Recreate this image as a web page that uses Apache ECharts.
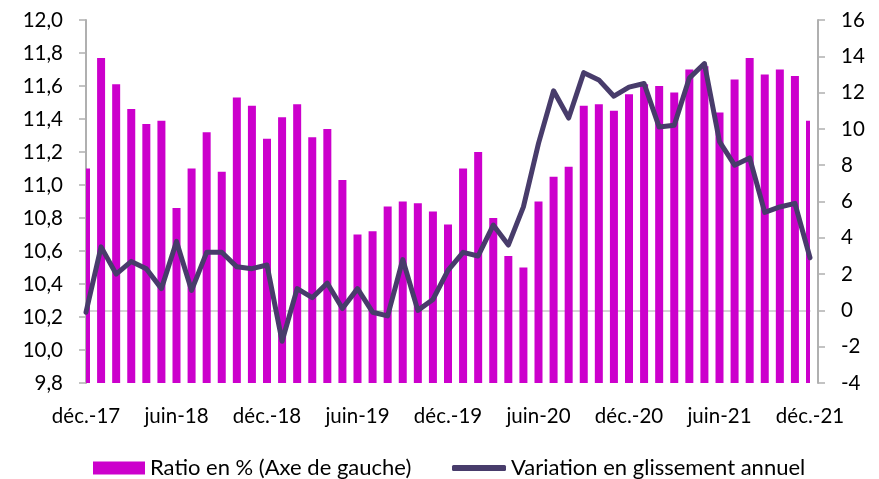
<!DOCTYPE html>
<html lang="fr">
<head>
  <meta charset="UTF-8">
  <title>Ratio et variation</title>
  <style>
    html, body { margin: 0; padding: 0; background: #fff; }
    #main { width: 879px; height: 479px; }
  </style>
  <script src="https://cdn.jsdelivr.net/npm/echarts@6/dist/echarts.min.js"></script>
</head>
<body>
  <div id="main"></div>
  <script>
    // mois, de déc.-17 à déc.-21
    var categories = [
      'déc.-17', 'janv.-18', 'févr.-18', 'mars-18', 'avr.-18', 'mai-18', 'juin-18', 'juil.-18', 'août-18', 'sept.-18', 'oct.-18', 'nov.-18',
      'déc.-18', 'janv.-19', 'févr.-19', 'mars-19', 'avr.-19', 'mai-19', 'juin-19', 'juil.-19', 'août-19', 'sept.-19', 'oct.-19', 'nov.-19',
      'déc.-19', 'janv.-20', 'févr.-20', 'mars-20', 'avr.-20', 'mai-20', 'juin-20', 'juil.-20', 'août-20', 'sept.-20', 'oct.-20', 'nov.-20',
      'déc.-20', 'janv.-21', 'févr.-21', 'mars-21', 'avr.-21', 'mai-21', 'juin-21', 'juil.-21', 'août-21', 'sept.-21', 'oct.-21', 'nov.-21',
      'déc.-21'
    ];
    // Ratio en % (axe de gauche)
    var ratio = [
      11.10, 11.77, 11.61, 11.46, 11.37, 11.39, 10.86, 11.10, 11.32, 11.08, 11.53, 11.48,
      11.28, 11.41, 11.49, 11.29, 11.34, 11.03, 10.70, 10.72, 10.87, 10.90, 10.89, 10.84,
      10.76, 11.10, 11.20, 10.80, 10.57, 10.50, 10.90, 11.05, 11.11, 11.48, 11.49, 11.45,
      11.55, 11.61, 11.60, 11.56, 11.70, 11.72, 11.44, 11.64, 11.77, 11.67, 11.70, 11.66,
      11.39
    ];
    // Variation en glissement annuel (axe de droite)
    var variation = [
      -0.1, 3.5, 2.0, 2.7, 2.3, 1.2, 3.8, 1.1, 3.2, 3.2, 2.4, 2.3,
      2.5, -1.7, 1.2, 0.7, 1.5, 0.1, 1.2, -0.1, -0.3, 2.8, 0.0, 0.6,
      2.2, 3.2, 3.0, 4.7, 3.6, 5.7, 9.2, 12.1, 10.6, 13.1, 12.7, 11.8,
      12.3, 12.5, 10.1, 10.2, 12.8, 13.6, 9.3, 8.0, 8.4, 5.4, 5.7, 5.9,
      2.9
    ];

    var font = 'Lato';
    var barColor = '#cc00cc';
    var lineColor = '#483c6b';
    var leftMin = 9.8;

    var chart = echarts.init(document.getElementById('main'));

    // barres dessinées en série custom pour que la première soit coupée par l'axe
    var barData = ratio.map(function (v, i) { return [i, v]; });

    function renderBar(params, api) {
      var top = api.coord([api.value(0), api.value(1)]);
      var base = api.coord([api.value(0), leftMin]);
      var w = 8;
      return {
        type: 'rect',
        shape: { x: top[0] - w / 2, y: top[1], width: w, height: base[1] - top[1] },
        style: { fill: barColor }
      };
    }

    var option = {
      animation: false,
      textStyle: { fontFamily: font },
      grid: { left: 86, right: 69, top: 20, bottom: 96 },
      legend: [
        {
          left: 88, top: 452,
          itemWidth: 52, itemHeight: 13, itemGap: 5,
          icon: 'rect',
          textStyle: { fontFamily: font, fontSize: 22, color: '#000' },
          data: [{ name: 'Ratio en % (Axe de gauche)', itemStyle: { color: barColor } }]
        },
        {
          left: 447, top: 452,
          itemWidth: 54, itemHeight: 6,
          icon: 'roundRect',
          textStyle: { fontFamily: font, fontSize: 22, color: '#000' },
          data: ['Variation en glissement annuel']
        }
      ],
      xAxis: {
        type: 'category',
        data: categories,
        boundaryGap: false,
        axisLine: { lineStyle: { color: '#c8c8c8', width: 1.5 } },
        axisTick: { show: false },
        axisLabel: {
          interval: 5,
          margin: 23,
          fontFamily: font,
          fontSize: 20.5,
          color: '#000'
        },
        splitLine: { show: false }
      },
      yAxis: [
        {
          type: 'value',
          min: leftMin, max: 12.0, interval: 0.2,
          axisLine: { show: true, lineStyle: { color: '#b0b0b0', width: 2 } },
          axisTick: { show: true, length: 7, lineStyle: { color: '#b0b0b0', width: 1.5 } },
          axisLabel: {
            margin: 23,
            fontFamily: font,
            fontSize: 20.5,
            color: '#000',
            formatter: function (v) { return v.toFixed(1).replace('.', ','); }
          },
          splitLine: { show: false }
        },
        {
          type: 'value',
          position: 'right',
          offset: 8,
          min: -4, max: 16, interval: 2,
          axisLine: { show: true, lineStyle: { color: '#b0b0b0', width: 2 } },
          axisTick: { show: true, length: 7, lineStyle: { color: '#b0b0b0', width: 1.5 } },
          axisLabel: {
            margin: 23,
            fontFamily: font,
            fontSize: 20.5,
            color: '#000'
          },
          splitLine: { show: false }
        }
      ],
      series: [
        {
          name: 'Ratio en % (Axe de gauche)',
          type: 'custom',
          yAxisIndex: 0,
          clip: true,
          renderItem: renderBar,
          itemStyle: { color: barColor },
          encode: { x: 0, y: 1 },
          data: barData,
          z: 1
        },
        {
          name: 'Variation en glissement annuel',
          type: 'line',
          yAxisIndex: 1,
          showSymbol: false,
          symbol: 'none',
          itemStyle: { color: lineColor },
          lineStyle: { color: lineColor, width: 5, cap: 'round', join: 'round' },
          data: variation,
          z: 3
        }
      ]
    };

    chart.setOption(option);
  </script>
</body>
</html>
